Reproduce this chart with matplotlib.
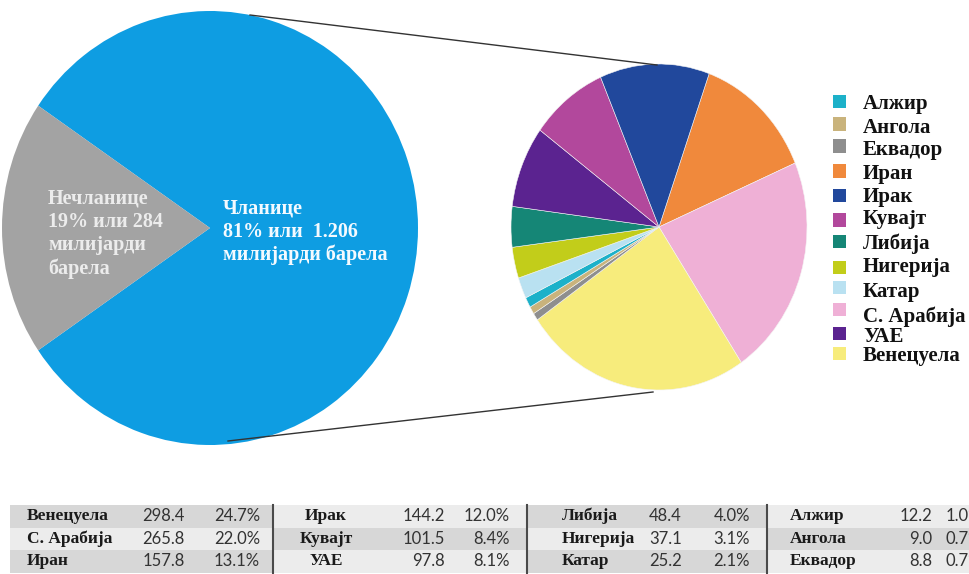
import matplotlib
matplotlib.use("Agg")
import matplotlib.pyplot as plt
from matplotlib.patches import Rectangle
from matplotlib.lines import Line2D

# ---------------- data ----------------
members_label = "Чланице\n81% или  1.206\nмилијарди барела"
nonmembers_label = "Нечланице\n19% или 284\nмилијарди\nбарела"
opec_split = [1206, 284]          # billion barrels: members, non-members

countries = ["Алжир", "Ангола", "Еквадор", "Иран", "Ирак", "Кувајт",
             "Либија", "Нигерија", "Катар", "С. Арабија", "УАЕ", "Венецуела"]
reserves = [12.2, 9.0, 8.8, 157.8, 144.2, 101.5, 48.4, 37.1, 25.2, 265.8, 97.8, 298.4]
shares_pct = [1.0, 0.7, 0.7, 13.1, 12.0, 8.4, 4.0, 3.1, 2.1, 22.0, 8.1, 24.7]
country_colors = ["#1cb1c9", "#c9b37c", "#8e8e8e", "#f0893c", "#21489c", "#b2489c",
                  "#158676", "#c2cd1a", "#b9e1f1", "#efb0d6", "#5b2390", "#f7ec7c"]
pie_order = ["Иран", "С. Арабија", "Венецуела", "Еквадор", "Ангола", "Алжир",
             "Катар", "Нигерија", "Либија", "УАЕ", "Кувајт", "Ирак"]

# ---------------- figure ----------------
W, H = 970, 574
fig = plt.figure(figsize=(W / 100, H / 100), dpi=100)
fig.patch.set_facecolor("white")

def fx(px):
    return px / W

def fy(py):
    return 1 - py / H

def px_axes(x0, y0, x1, y1):
    return fig.add_axes([fx(x0), fy(y1), (x1 - x0) / W, (y1 - y0) / H])

SERIF = ["Liberation Serif", "DejaVu Serif"]
SANS = ["Lato", "DejaVu Sans"]

# ---- left pie (members vs non-members) ----
ax1 = px_axes(2, 11, 418, 445)
share_non = opec_split[1] / sum(opec_split)
ax1.pie(opec_split, colors=["#0e9de2", "#a3a3a3"],
        startangle=180 + 180 * share_non, counterclock=True,
        wedgeprops=dict(linewidth=0))
ax1.set_aspect("auto")
ax1.set_xlim(-1, 1)
ax1.set_ylim(-1, 1)
ax1.axis("off")

fig.text(fx(48), fy(234), nonmembers_label, ha="left", va="center",
         fontsize=14.5, fontweight="bold", family=SERIF, color="#ececec",
         linespacing=1.22)
fig.text(fx(223), fy(232), members_label, ha="left", va="center",
         fontsize=14.5, fontweight="bold", family=SERIF, color="#f4faff",
         linespacing=1.2)

# ---- right pie (members breakdown) ----
ax2 = px_axes(511, 64, 807, 390)
idx = [countries.index(c) for c in pie_order]
ax2.pie([reserves[i] for i in idx], colors=[country_colors[i] for i in idx],
        startangle=70.2, counterclock=False,
        wedgeprops=dict(linewidth=0.4, edgecolor="#f4f4f4"))
ax2.set_aspect("auto")
ax2.set_xlim(-1, 1)
ax2.set_ylim(-1, 1)
ax2.axis("off")

# connector lines
fig.add_artist(Line2D([fx(250), fx(657)], [fy(15), fy(65)], color="#333333", lw=1.0))
fig.add_artist(Line2D([fx(228), fx(653)], [fy(441), fy(392)], color="#333333", lw=1.0))

# ---- legend ----
marker_y = [102, 124, 146, 171, 196, 220, 242, 267, 288, 309, 333, 353]
text_y = [104, 128, 150, 174, 197, 219, 244, 267, 292, 317, 337, 356]
for name, col, my, ty in zip(countries, country_colors, marker_y, text_y):
    fig.add_artist(Rectangle((fx(833), fy(my + 6.5)), 13 / W, 13 / H,
                             transform=fig.transFigure, facecolor=col,
                             edgecolor="none"))
    fig.text(fx(863), fy(ty), name, ha="left", va="center", fontsize=15,
             fontweight="bold", family=SERIF, color="#111111")

# ---- table ----
order = sorted(range(len(countries)), key=lambda i: -reserves[i])
groups_x = [(10, 273), (273, 527), (527, 767), (767, 975)]
name_x = [(27, "left"), (326, "center"), (562, "left"), (790, "left")]
val_right = [185, 445, 682, 932]
pct_right = [260, 510, 750, 982]
row_top = [505, 527.5, 550]
row_h = 22.5
dark, light = "#d7d7d7", "#ececec"

for g in range(4):
    gx0, gx1 = groups_x[g]
    for r in range(3):
        shade = dark if (g + r) % 2 == 0 else light
        fig.add_artist(Rectangle((fx(gx0), fy(row_top[r] + row_h)), (gx1 - gx0) / W,
                                 row_h / H, transform=fig.transFigure,
                                 facecolor=shade, edgecolor="none", zorder=0))
        k = order[g * 3 + r]
        cy = row_top[r] + row_h / 2
        nx, nha = name_x[g]
        fig.text(fx(nx), fy(cy), countries[k], ha=nha, va="center", fontsize=12.5,
                 fontweight="bold", family=SERIF, color="#1a1a1a")
        fig.text(fx(val_right[g]), fy(cy), f"{reserves[k]:.1f}", ha="right",
                 va="center", fontsize=12, family=SANS, color="#333333")
        fig.text(fx(pct_right[g]), fy(cy), f"{shares_pct[k]:.1f}%", ha="right",
                 va="center", fontsize=12, family=SANS, color="#333333")

for sx in [273, 527, 767]:
    fig.add_artist(Line2D([fx(sx), fx(sx)], [fy(505), fy(572.5)],
                          color="#4a4a4a", lw=1.5))

fig.savefig("out.png", dpi=100, facecolor="white")
